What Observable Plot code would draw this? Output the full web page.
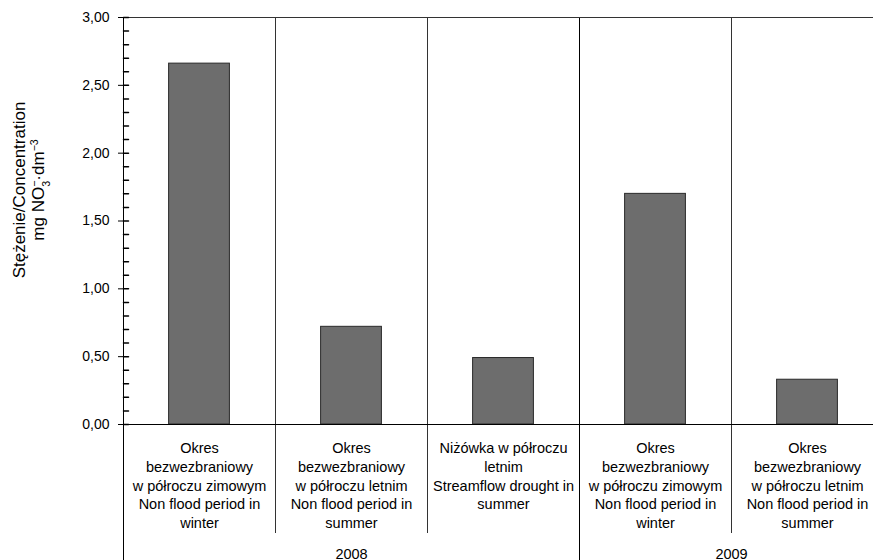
<!DOCTYPE html>
<html>
<head>
<meta charset="utf-8">
<script src="https://cdn.jsdelivr.net/npm/d3@7"></script>
<script src="https://cdn.jsdelivr.net/npm/@observablehq/plot@0.6"></script>
<style>
  body { margin: 0; background: #fff; }
  #chart svg { display: block; }
</style>
</head>
<body>
<div id="chart"></div>
<script>
// Nitrate concentration by hydrological period, 2008–2009
const categories = [
  "Okres\nbezwezbraniowy\nw półroczu zimowym\nNon flood period in\nwinter",
  "Okres\nbezwezbraniowy\nw półroczu letnim\nNon flood period in\nsummer",
  "Niżówka w półroczu\nletnim\nStreamflow drought in\nsummer",
  "Okres\nbezwezbraniowy\nw półroczu zimowym\nNon flood period in\nwinter",
  "Okres\nbezwezbraniowy\nw półroczu letnim\nNon flood period in\nsummer"
];
const years = ["2008", "2008", "2008", "2009", "2009"];
const concentration = [2.66, 0.72, 0.49, 1.70, 0.33];
const yTicks = [0, 0.5, 1, 1.5, 2, 2.5, 3];
const yMinorTicks = d3.range(0, 31).map(i => i / 10);
const yTitle = "Stężenie/Concentration";
const yUnit = "mg NO3-·dm-3";

const rows = categories.map((label, i) => ({i, label, year: years[i], value: concentration[i]}));

// consecutive runs of the same year form a group on the lower axis
const yearGroups = [];
rows.forEach(r => {
  const last = yearGroups[yearGroups.length - 1];
  if (last && last.year === r.year) last.end = r.i + 1;
  else yearGroups.push({year: r.year, start: r.i, end: r.i + 1});
});
const yearBounds = [...yearGroups.map(g => g.start), rows.length];
const innerBounds = d3.range(1, rows.length).filter(b => !yearBounds.includes(b));

const lineColor = "#333";
const font = "'Liberation Sans', Arial, sans-serif";
const tickRight = {draw(context, l) { context.moveTo(0, 0); context.lineTo(l, 0); }};

const chart = Plot.plot({
  width: 873,
  height: 560,
  marginLeft: 123,
  marginRight: 0,
  marginTop: 17,
  marginBottom: 136,
  style: {fontFamily: font, fontSize: "14px", color: "#000", background: "#fff", overflow: "hidden"},
  x: {type: "linear", domain: [0, rows.length], range: [123, 123 + 152 * rows.length], axis: null},
  y: {domain: [0, 3], axis: null},
  marks: [
    // category separators, running down through the label area
    Plot.ruleX(innerBounds, {x: d => d, stroke: lineColor, insetBottom: -109}),
    // year separators run to the bottom edge
    Plot.ruleX(yearBounds, {x: d => d, stroke: "#000", insetBottom: -136}),
    Plot.ruleY([3], {stroke: lineColor}),
    Plot.rectY(rows, {
      x1: d => d.i + 0.3,
      x2: d => d.i + 0.7,
      y: "value",
      fill: "#6d6d6d",
      stroke: "#2a2a2a",
      strokeWidth: 1
    }),
    Plot.ruleY([0], {stroke: "#000"}),
    Plot.axisY(yTicks, {
      anchor: "left",
      tickSize: 5,
      tickPadding: 9,
      tickFormat: d => d.toFixed(2).replace(".", ","),
      fontSize: 14,
      label: null
    }),
    Plot.vector(yMinorTicks, {
      y: d => d,
      frameAnchor: "left",
      anchor: "start",
      length: 5,
      shape: tickRight,
      stroke: "#000"
    }),
    Plot.text(rows, {
      x: d => d.i + 0.5,
      text: "label",
      frameAnchor: "bottom",
      lineAnchor: "top",
      dy: 15,
      lineHeight: 1.3,
      fontSize: 14.5,
      fill: "#000"
    }),
    Plot.text(yearGroups, {
      x: d => (d.start + d.end) / 2,
      text: "year",
      frameAnchor: "bottom",
      lineAnchor: "bottom",
      dy: 134,
      fontSize: 14.5,
      fill: "#000"
    }),
    Plot.text([yTitle + "\n" + yUnit], {
      frameAnchor: "left",
      textAnchor: "middle",
      lineAnchor: "middle",
      rotate: -90,
      dx: -95,
      dy: -31,
      lineHeight: 1.12,
      fontSize: 17,
      fill: "#000"
    })
  ]
});

// chemical notation for the unit line: NO₃⁻ and dm⁻³
const svgNS = "http://www.w3.org/2000/svg";
const unitLine = [...chart.querySelectorAll("tspan")].find(t => t.textContent === yUnit);
if (unitLine) {
  unitLine.textContent = "";
  const part = (txt, shift, dx) => {
    const t = document.createElementNS(svgNS, "tspan");
    t.textContent = txt;
    if (shift) {
      t.setAttribute("baseline-shift", shift);
      t.setAttribute("font-size", "0.62em");
    }
    if (dx) t.setAttribute("dx", dx);
    return t;
  };
  unitLine.append(
    part("mg NO"),
    part("3", "sub"),
    part("\u2212", "super", "-0.55em"),
    part("·dm"),
    part("\u22123", "super")
  );
}

document.getElementById("chart").append(chart);
</script>
</body>
</html>
